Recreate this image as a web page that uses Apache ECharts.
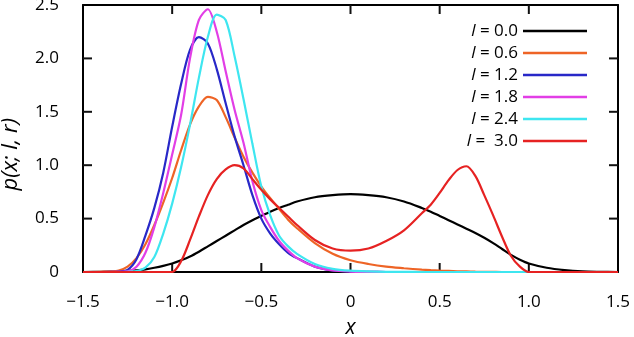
<!DOCTYPE html>
<html>
<head>
<meta charset="utf-8">
<script src="https://cdn.jsdelivr.net/npm/echarts@6/dist/echarts.min.js"></script>
<style>
  html, body { margin: 0; padding: 0; background: #fff; }
  #chart { width: 634px; height: 337px; }
</style>
</head>
<body>
<div id="chart"></div>
<script>
  // x positions shared by all curves (denser where the peaks are)
  const xs = [-1.5, -1.4, -1.3, -1.25, -1.2, -1.15, -1.1, -1.05, -1.0, -0.95, -0.9, -0.85, -0.8, -0.75, -0.7, -0.65, -0.6, -0.55, -0.5, -0.45, -0.4, -0.35, -0.3,
    -0.2, -0.1, 0, 0.1, 0.2, 0.3, 0.4, 0.45, 0.5, 0.55, 0.6, 0.65, 0.7, 0.75, 0.8, 0.85, 0.9, 0.95, 1.0, 1.1, 1.2, 1.3, 1.4, 1.5]

  const labels = ['0.0', '0.6', '1.2', '1.8', '2.4', ' 3.0']
  const colors = ['#000000', '#ee6426', '#2828c8', '#e23ee6', '#3ee6f0', '#e62222']

  const yL00 = [0, 0.002, 0.006, 0.01, 0.016, 0.025, 0.04, 0.058, 0.08, 0.11, 0.145, 0.19, 0.24, 0.29, 0.34, 0.39, 0.44, 0.485, 0.525, 0.565, 0.60, 0.63, 0.66,
    0.70, 0.72, 0.73, 0.72, 0.70, 0.66, 0.60, 0.565, 0.525, 0.485, 0.445, 0.405, 0.365, 0.32, 0.27, 0.215, 0.16, 0.115, 0.08, 0.04, 0.018, 0.006, 0.002, 0]
  const yL06 = [0, 0.002, 0.014, 0.05, 0.13, 0.26, 0.44, 0.65, 0.88, 1.14, 1.38, 1.55, 1.64, 1.61, 1.45, 1.26, 1.08, 0.93, 0.80, 0.69, 0.59, 0.49, 0.41,
    0.27, 0.17, 0.11, 0.075, 0.05, 0.035, 0.022, 0.017, 0.013, 0.01, 0.007, 0.005, 0.003, 0.002, 0.001, 0, 0, 0, 0, 0, 0, 0, 0, 0]
  const yL12 = [0, 0, 0.003, 0.02, 0.12, 0.34, 0.60, 0.93, 1.36, 1.76, 2.08, 2.20, 2.14, 1.90, 1.58, 1.27, 1.00, 0.72, 0.50, 0.36, 0.26, 0.18, 0.13,
    0.05, 0.015, 0.004, 0.001, 0, 0, 0, 0, 0, 0, 0, 0, 0, 0, 0, 0, 0, 0, 0, 0, 0, 0, 0, 0]
  const yL18 = [0, 0, 0.001, 0.006, 0.05, 0.18, 0.42, 0.74, 1.10, 1.47, 2.00, 2.36, 2.46, 2.25, 1.88, 1.52, 1.21, 0.85, 0.58, 0.42, 0.29, 0.20, 0.13,
    0.05, 0.015, 0.004, 0.001, 0, 0, 0, 0, 0, 0, 0, 0, 0, 0, 0, 0, 0, 0, 0, 0, 0, 0, 0, 0]
  const yL24 = [0, 0, 0, 0.002, 0.008, 0.04, 0.14, 0.36, 0.64, 0.98, 1.38, 1.82, 2.20, 2.41, 2.36, 2.02, 1.62, 1.20, 0.80, 0.53, 0.34, 0.24, 0.17,
    0.075, 0.03, 0.012, 0.005, 0.002, 0.001, 0, 0, 0, 0, 0, 0, 0, 0, 0, 0, 0, 0, 0, 0, 0, 0, 0, 0]
  const yL30 = [0, 0, 0, 0, 0, 0, 0, 0, 0, 0.10, 0.30, 0.52, 0.72, 0.87, 0.96, 1.00, 0.97, 0.87, 0.77, 0.68, 0.60, 0.52, 0.44,
    0.30, 0.22, 0.20, 0.22, 0.29, 0.39, 0.55, 0.63, 0.74, 0.86, 0.955, 0.99, 0.90, 0.72, 0.53, 0.33, 0.15, 0.05, 0, 0, 0, 0, 0, 0]

  const curves = [yL00, yL06, yL12, yL18, yL24, yL30]

  // inner tick positions on the frame
  const xTicks = [-1.0, -0.5, 0, 0.5, 1.0]
  const yTicks = [0.5, 1.0, 1.5, 2.0]

  const font = 'Open Sans'
  const chart = echarts.init(document.getElementById('chart'))

  function fmt(v) {
    if (v === 0) return '0'
    return v.toFixed(1).replace('-', '\u2212')
  }

  function axLine() {
    return {show: true, onZero: false, lineStyle: {color: '#000', width: 2}}
  }

  // ticks pointing inward on all four sides, placed through the axis scales
  function renderTick(params, api) {
    const cs = params.coordSys
    const kind = api.value(2)
    const p = api.coord([api.value(0), api.value(1)])
    const len = 9
    const st = {stroke: '#111', lineWidth: 2}
    let a, b
    if (kind === 0) {
      a = {x1: p[0], y1: cs.y + cs.height, x2: p[0], y2: cs.y + cs.height - len}
      b = {x1: p[0], y1: cs.y, x2: p[0], y2: cs.y + len}
    } else {
      a = {x1: cs.x, y1: p[1], x2: cs.x + len, y2: p[1]}
      b = {x1: cs.x + cs.width, y1: p[1], x2: cs.x + cs.width - len, y2: p[1]}
    }
    return {
      type: 'group',
      children: [
        {type: 'line', shape: a, style: st},
        {type: 'line', shape: b, style: st}
      ]
    }
  }

  const tickData = xTicks.map(v => [v, 0, 0]).concat(yTicks.map(v => [-1.5, v, 1]))

  let series = curves.map((ys, i) => ({
    name: labels[i],
    type: 'line',
    data: xs.map((x, k) => [x, ys[k]]),
    showSymbol: false,
    symbol: 'none',
    smooth: 0.3,
    color: colors[i],
    lineStyle: {width: 2.2, color: colors[i]}
  }))
  series.push({
    type: 'custom',
    name: 'ticks',
    renderItem: renderTick,
    data: tickData,
    silent: true,
    clip: false,
    z: 1
  })

  let option = {
    animation: false,
    grid: {left: 83, right: 16, top: 5, bottom: 65, outerBoundsMode: 'none'},
    legend: {
      orient: 'vertical',
      align: 'right',
      right: 42,
      top: 16,
      icon: 'rect',
      itemWidth: 64,
      itemHeight: 2.5,
      itemGap: 2,
      textStyle: {
        fontFamily: font, fontSize: 17, color: '#000', lineHeight: 20,
        rich: {i: {fontFamily: font, fontSize: 17, fontStyle: 'italic', color: '#000'}}
      },
      formatter: name => '{i|l} = ' + name,
      data: labels
    },
    xAxis: [
      {
        type: 'value', min: -1.5, max: 1.5, interval: 0.5,
        axisLine: axLine(), axisTick: {show: false}, splitLine: {show: false},
        axisLabel: {fontFamily: font, fontSize: 17, color: '#000', margin: 22, formatter: fmt},
        name: 'x', nameLocation: 'middle', nameGap: 46,
        nameTextStyle: {fontFamily: font, fontSize: 21, fontStyle: 'italic', color: '#000'}
      },
      {
        type: 'value', position: 'top', min: -1.5, max: 1.5, interval: 0.5,
        axisLine: axLine(), axisTick: {show: false}, axisLabel: {show: false}, splitLine: {show: false}
      }
    ],
    yAxis: [
      {
        type: 'value', min: 0, max: 2.5, interval: 0.5,
        axisLine: axLine(), axisTick: {show: false}, splitLine: {show: false},
        axisLabel: {fontFamily: font, fontSize: 17, color: '#000', margin: 24, formatter: fmt}
      },
      {
        type: 'value', position: 'right', min: 0, max: 2.5, interval: 0.5,
        axisLine: axLine(), axisTick: {show: false}, axisLabel: {show: false}, splitLine: {show: false}
      }
    ],
    graphic: [
      {
        type: 'text', left: 0, top: 118, rotation: Math.PI / 2,
        style: {text: 'p(x; l, r)', font: 'italic 22px "Open Sans"', fill: '#000'}
      }
    ],
    series: series
  }

  chart.setOption(option)
</script>
</body>
</html>
